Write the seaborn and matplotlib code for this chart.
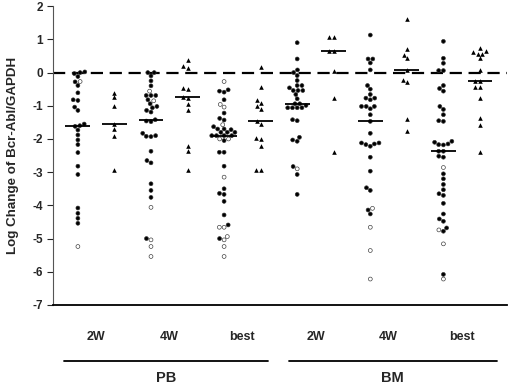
import numpy as np
import pandas as pd
import matplotlib
matplotlib.use("Agg")
import matplotlib.pyplot as plt
import seaborn as sns

# log change values
# circles: filled / open, triangles: separate column next to the circles
pb_2w_filled = [0.02, 0.0, -0.03, -0.12, -0.28, -0.39, -0.61, -0.82, -0.84, -1.04, -1.14,
                -1.55, -1.6, -1.62, -1.73, -1.88, -2.03, -2.17, -2.41, -2.82, -3.07,
                -4.08, -4.24, -4.39, -4.54]
pb_2w_open = [-0.27, -5.24]
pb_2w_tri = [-0.61, -0.75, -1.02, -1.55, -1.70, -1.90, -2.95]

pb_4w_filled = [0.0, 0.0, -0.1, -0.25, -0.4, -0.69, -0.69, -0.69, -0.82, -0.94, -1.02, -1.06,
                -1.14, -1.19, -1.42, -1.46, -1.48, -1.83, -1.9, -1.92, -1.93, -2.37, -2.65,
                -2.72, -3.35, -3.55, -3.76, -5.0]
pb_4w_open = [-0.56, -0.85, -4.06, -5.04, -5.24, -5.54]
pb_4w_tri = [0.39, 0.21, 0.15, -0.47, -0.51, -0.74, -0.76, -0.95, -1.12, -2.22, -2.36, -2.95]

pb_best_filled = [-0.52, -0.56, -0.59, -0.82, -1.22, -1.38, -1.43, -1.63, -1.7, -1.7, -1.72,
                  -1.8, -1.8, -1.8, -1.9, -1.9, -1.9, -1.9, -2.05, -2.4, -2.4, -2.82, -3.5,
                  -3.64, -3.67, -3.88, -4.29, -4.59, -5.0]
pb_best_open = [-0.27, -0.96, -1.04, -1.57, -2.0, -2.0, -3.15, -4.66, -4.66, -4.94, -5.04,
                -5.24, -5.54]
pb_best_tri = [0.16, -0.44, -0.84, -0.92, -1.02, -1.11, -1.47, -1.55, -1.98, -2.0, -2.22,
               -2.95, -2.95]

bm_2w_filled = [0.9, 0.41, 0.08, 0.0, -0.09, -0.24, -0.39, -0.39, -0.46, -0.54, -0.54, -0.54,
                -0.66, -0.79, -0.94, -0.94, -0.99, -1.06, -1.06, -1.06, -1.06, -1.42, -1.45,
                -1.95, -2.03, -2.07, -2.83, -3.07, -3.67]
bm_2w_open = [-2.9]
bm_2w_tri = [1.08, 1.08, 0.66, 0.64, 0.06, -0.78, -2.38]

bm_4w_filled = [1.13, 0.41, 0.41, 0.29, 0.08, -0.39, -0.5, -0.66, -0.77, -0.77, -0.82, -1.02,
                -1.02, -1.02, -1.09, -1.27, -1.47, -1.83, -2.12, -2.12, -2.15, -2.17, -2.22,
                -2.55, -2.97, -3.47, -3.55, -4.14, -4.26]
bm_4w_open = [-4.09, -4.66, -5.36, -6.22]
bm_4w_tri = [1.6, 0.71, 0.54, 0.44, 0.09, -0.22, -0.29, -1.4, -1.75]

bm_best_filled = [0.94, 0.43, 0.28, 0.06, 0.06, -0.39, -0.48, -0.56, -1.02, -1.11, -1.27,
                  -1.45, -1.47, -2.07, -2.1, -2.15, -2.17, -2.18, -2.37, -2.37, -2.52, -2.55,
                  -3.05, -3.2, -3.37, -3.53, -3.65, -3.7, -3.94, -4.26, -4.41, -4.48, -4.68,
                  -4.78, -6.08]
bm_best_open = [-2.86, -4.74, -5.16, -6.22]
bm_best_tri = [0.73, 0.66, 0.61, 0.56, 0.56, 0.44, 0.09, -0.24, -0.26, -0.42, -0.42, -0.78,
               -1.37, -1.57, -2.38]

times = ["2W", "4W", "best"]
groups = ["PB", "BM"]

circle_sets = {
    ("PB", "2W"): (pb_2w_filled, pb_2w_open), ("PB", "4W"): (pb_4w_filled, pb_4w_open),
    ("PB", "best"): (pb_best_filled, pb_best_open), ("BM", "2W"): (bm_2w_filled, bm_2w_open),
    ("BM", "4W"): (bm_4w_filled, bm_4w_open), ("BM", "best"): (bm_best_filled, bm_best_open),
}
tri_sets = {
    ("PB", "2W"): pb_2w_tri, ("PB", "4W"): pb_4w_tri, ("PB", "best"): pb_best_tri,
    ("BM", "2W"): bm_2w_tri, ("BM", "4W"): bm_4w_tri, ("BM", "best"): bm_best_tri,
}

order = []
circ_rows = []
tri_rows = []
for g in groups:
    for t in times:
        c_col = f"{g} {t} c"
        t_col = f"{g} {t} t"
        order += [c_col, t_col]
        filled, opn = circle_sets[(g, t)]
        circ_rows += [(c_col, v, "filled") for v in filled]
        circ_rows += [(c_col, v, "open") for v in opn]
        tri_rows += [(t_col, v) for v in tri_sets[(g, t)]]

circ_df = pd.DataFrame(circ_rows, columns=["col", "value", "kind"])
tri_df = pd.DataFrame(tri_rows, columns=["col", "value"])

sns.set_style("ticks")
plt.rcParams["font.family"] = ["Liberation Sans", "DejaVu Sans"]
plt.rcParams["font.weight"] = "bold"
plt.rcParams["axes.unicode_minus"] = False

fig, ax = plt.subplots(figsize=(5.2, 3.86), dpi=100)
fig.subplots_adjust(left=0.102, right=0.975, top=0.984, bottom=0.21)

sns.swarmplot(data=circ_df, x="col", y="value", hue="kind", order=order,
              palette={"filled": "black", "open": "white"}, hue_order=["filled", "open"],
              size=2.8, edgecolor="#333333", linewidth=0.45, legend=False, ax=ax)
sns.swarmplot(data=tri_df, x="col", y="value", order=order, color="black", marker="^",
              size=3.3, linewidth=0, ax=ax)

# medians
medians = circ_df.groupby("col")["value"].median()
medians = pd.concat([medians, tri_df.groupby("col")["value"].median()])
for i, col in enumerate(order):
    ax.hlines(medians[col], i - 0.34, i + 0.34, color="black", lw=1.3, zorder=5)

ax.axhline(0, color="black", lw=1.6, dashes=(5.5, 3), zorder=1)

ax.set_ylim(-7, 2)
ax.set_yticks(range(-7, 3))
ax.set_xlim(-0.68, 11.74)
ax.set_xticks([0.5, 2.5, 4.5, 6.5, 8.5, 10.5])
ax.set_xticklabels(times * 2, fontsize=9, fontweight="bold")
ax.tick_params(axis="x", length=0, pad=19)
ax.tick_params(axis="y", labelsize=8.5, length=4, width=0.8, pad=3)
for lab in ax.get_yticklabels():
    lab.set_fontweight("bold")
ax.set_xlabel("")
ax.set_ylabel("Log Change of Bcr-Abl/GAPDH", fontsize=9.6, fontweight="bold")
ax.yaxis.set_label_coords(-0.074, 0.5)

sns.despine(ax=ax)
ax.spines["left"].set_color("#555555")
ax.spines["left"].set_linewidth(0.8)
ax.spines["bottom"].set_color("black")
ax.spines["bottom"].set_linewidth(1.3)

# group brackets under the axis
trans = ax.get_xaxis_transform()
for g, (x0, x1) in zip(groups, [(-0.38, 5.2), (5.77, 11.46)]):
    ax.plot([x0, x1], [-0.187, -0.187], color="black", lw=1.3, transform=trans, clip_on=False)
    ax.text((x0 + x1) / 2, -0.245, g, transform=trans, ha="center", va="center",
            fontsize=10.5, fontweight="bold")

fig.savefig("out.png", dpi=100)
